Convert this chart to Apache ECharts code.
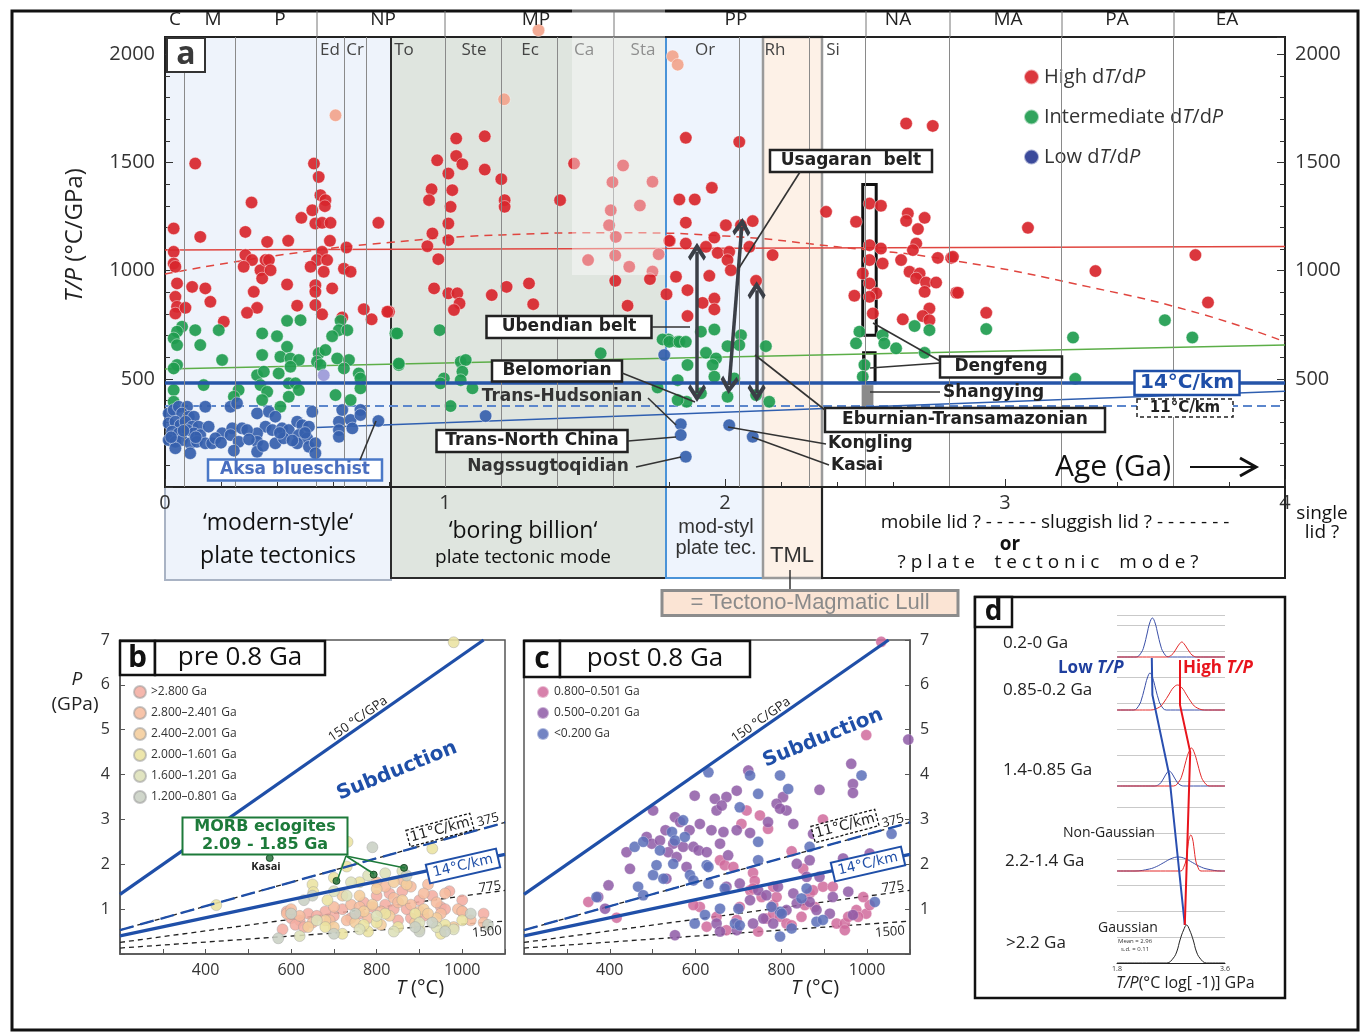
<!DOCTYPE html>
<html>
<head>
<meta charset="utf-8">
<script src="https://cdn.jsdelivr.net/npm/echarts@6/dist/echarts.min.js"></script>
<style>
html, body { margin: 0; padding: 0; background: #fff; }
#main { width: 1366px; height: 1034px; }
</style>
</head>
<body>
<div id="main"></div>
<script>
// ---- panel a : T/P vs age ----
var eraLabels = [['C', 175], ['M', 213], ['P', 280], ['NP', 383], ['MP', 536], ['PP', 736], ['NA', 898], ['MA', 1008], ['PA', 1117], ['EA', 1227]];
var periodLabels = [['Ed', 330], ['Cr', 355], ['To', 404], ['Ste', 474], ['Ec', 530], ['Ca', 584], ['Sta', 643], ['Or', 705], ['Rh', 775], ['Si', 833]];
var periodBounds = [0.066, 0.252, 0.541, 0.635, 0.72, 1.0, 1.2, 1.4, 1.6, 2.05, 2.3, 2.5, 2.8, 3.2, 3.6];

var highTP = [
  [0.031,1195],[0.031,1087],[0.031,1033],[0.037,1018],[0.043,941],[0.037,879],[0.043,833],[0.037,802],[0.073,828],[0.097,925],
  [0.108,1495],[0.126,1156],[0.144,918],[0.162,856],[0.210,764],[0.287,1179],[0.309,1315],[0.287,1072],[0.311,1049],[0.281,1018],
  [0.317,902],[0.329,828],[0.293,805],[0.341,1002],[0.347,964],[0.359,1049],[0.371,1049],[0.365,1133],[0.377,1002],[0.436,936],
  [0.440,1138],[0.472,838],[0.487,1244],[0.526,1279],[0.532,1495],[0.549,1433],[0.555,1349],[0.573,1326],[0.571,1298],[0.537,1218],
  [0.561,1221],[0.591,1221],[0.589,1138],[0.561,1087],[0.543,1049],[0.579,1049],[0.520,1018],[0.567,995],[0.537,933],[0.537,902],
  [0.597,918],[0.537,841],[0.561,798],[0.633,784],[0.648,1107],[0.639,1009],[0.663,995],[0.710,822],[0.738,775],[0.762,1221],[0.800,810],
  [0.794,810],[0.937,1113],[0.955,1172],[0.972,1510],[0.952,1376],[0.943,1326],[0.976,1053],[0.961,918],[1.012,1449],[1.026,1372],
  [1.020,1295],[1.012,1218],[1.012,1141],[1.040,1611],[1.040,1530],[1.062,1492],[1.012,895],[1.044,895],[1.052,848],[1.032,818],
  [1.142,1621],[1.142,1467],[1.201,1423],[1.213,1326],[1.213,1295],[1.167,887],[1.220,925],[1.300,941],[1.315,845],[1.411,1326],
  [1.461,1495],[1.511,1049],[1.592,1279],[1.586,1210],[1.598,1409],[1.610,1156],[1.608,1070],[1.636,1486],[1.608,953],[1.658,1018],
  [1.652,838],[1.696,1301],[1.741,1411],[1.763,1076],[1.741,996],[1.732,961],[1.791,891],[1.803,1138],
  [1.860,1614],[2.051,1595],[1.953,1383],[1.837,1329],[1.892,1329],[1.860,1222],[1.801,1138],[1.860,1125],[1.932,1110],[1.962,1153],
  [2.003,1210],[2.057,1210],[2.099,1229],[1.974,1082],[2.015,1087],[2.009,1049],[2.021,1002],[2.087,1110],[1.825,972],[1.944,976],
  [1.866,910],[1.920,851],[1.962,871],[1.962,821],[1.866,790],[2.111,953],[2.170,1072],
  [2.361,1272],[2.468,1226],[2.516,1310],[2.557,1300],[2.516,1118],[2.557,1102],[2.516,1049],[2.563,1033],[2.492,987],[2.516,941],
  [2.540,895],[2.462,884],[2.516,879],[2.528,802],[2.653,1264],[2.647,1230],[2.713,1244],[2.689,1192],[2.683,1125],[2.671,1095],
  [2.629,1049],[2.659,995],[2.695,987],[2.683,964],[2.718,945],[2.754,945],[2.713,902],[2.730,825],[2.706,790],[2.730,771],
  [2.635,775],[2.647,1680],[2.742,1669],[2.760,1059],[2.808,1059],[2.826,898],
  [3.082,1198],[3.323,998],[3.680,1072],[3.725,853],[2.933,805],[2.832,898],[2.814,1064]
];
var intermTP = [
  [0.061,741],[0.043,718],[0.031,687],[0.043,656],[0.108,725],[0.126,656],[0.192,725],[0.204,587],[0.043,564],[0.031,548],
  [0.031,448],[0.031,394],[0.138,471],[0.263,448],[0.246,417],[0.347,710],[0.400,697],[0.347,610],[0.436,768],[0.484,771],
  [0.436,648],[0.412,602],[0.448,594],[0.478,587],[0.448,556],[0.406,525],[0.329,517],[0.353,533],[0.341,471],[0.365,440],
  [0.347,402],[0.442,479],[0.466,479],[0.478,448],[0.442,417],[0.412,371],[0.549,618],[0.573,633],[0.543,579],[0.555,564],
  [0.615,594],[0.657,587],[0.609,425],[0.663,402],[0.692,525],[0.698,502],[0.698,456],[0.627,768],[0.621,725],[0.651,725],
  [0.597,697],[0.823,710],[0.835,564],[0.639,548],
  [0.829,710],[0.981,725],[0.835,571],[1.056,579],[1.074,587],[1.062,533],[0.996,502],[0.984,479],[1.056,494],[1.098,456],
  [1.020,374],[1.556,618],[1.759,460],[1.798,682],[1.831,671],[1.863,394],
  [1.777,682],[1.801,671],[1.837,671],[1.860,671],[1.914,718],[1.962,728],[2.057,702],[2.051,656],[2.009,651],[2.146,651],
  [1.932,620],[1.968,594],[1.866,564],[1.956,564],[1.831,494],[1.914,433],[1.831,402],[2.009,417],[2.111,425],[2.158,394],
  [1.962,510],[2.033,502],
  [2.480,718],[2.468,664],[2.498,564],[2.492,510],[2.563,702],[2.569,664],[2.611,641],[2.713,620],[2.677,744],[2.730,725],
  [2.933,730],[3.243,691],[3.571,771],[3.669,691],[3.251,500]
];
var lowTP = [
  [0.013,340],[0.031,356],[0.049,371],[0.079,371],[0.061,340],[0.085,325],[0.103,325],[0.013,294],[0.037,302],[0.055,286],
  [0.073,302],[0.097,279],[0.120,279],[0.025,256],[0.049,248],[0.079,263],[0.103,248],[0.126,240],[0.156,279],[0.144,371],
  [0.013,217],[0.037,209],[0.061,217],[0.090,202],[0.114,209],[0.144,202],[0.168,202],[0.037,179],[0.090,156],[0.204,248],
  [0.240,271],[0.234,371],[0.257,387],[0.275,271],[0.234,240],[0.263,209],[0.246,168],[0.329,340],[0.371,348],[0.394,325],
  [0.359,279],[0.383,263],[0.329,248],[0.329,209],[0.329,163],[0.418,271],[0.442,263],[0.472,302],[0.490,286],[0.514,279],
  [0.478,240],[0.508,225],[0.472,202],[0.514,186],[0.537,202],[0.537,156],[0.526,348],[0.394,202],[0.424,225],[0.293,263],
  [0.621,302],[0.633,356],[0.621,263],[0.621,232],[0.663,310],[0.669,271],[0.698,356],[0.698,333],[0.762,305],
  [0.022,230],[0.066,260],[0.110,230],[0.180,225],[0.200,205],[0.300,220],[0.350,190],[0.410,250],[0.455,215],[0.500,250],
  [1.145,328],[1.783,610],[1.842,290],[1.842,240],[1.860,140],[2.015,286],[2.099,232]
];
var fadedTP = [[0.609,1718],[1.211,1792],[1.813,1991],[1.831,1952],[1.334,2111]];
var lavenderTP = [[0.567,517]];

var redFlatTrend = [[0, 1095], [4, 1112]];
var redDashTrend = [[0,985],[0.4,1070],[0.8,1130],[1.2,1165],[1.6,1175],[2.0,1160],[2.4,1110],[2.8,1050],[3.3,925],[3.7,800],[4.0,671]];
var greenTrend = [[0, 545], [4, 656]];
var grad14 = [[0, 481], [4, 481]];
var grad11 = [[0, 374], [4, 374]];
var blueTrend = [[0.54, 275], [4, 443]];
var arrowSpans = [[[1.900,434],[1.900,1087]], [[2.015,471],[2.060,1202]], [[2.113,434],[2.113,910]]];
var dengfengBoxes = [[2.492, 2.540, 702, 1398], [2.495, 2.536, 482, 620]];
var shangyingBar = [2.488, 2.530, 365, 471];

// ---- panels b, c : P vs T ----
var bNames = ['>2.800 Ga', '2.800–2.401 Ga', '2.400–2.001 Ga', '2.000–1.601 Ga', '1.600–1.201 Ga', '1.200–0.801 Ga'];
var bColors = ['#f4ada2', '#f6bc9e', '#f4cd9c', '#ebe2a0', '#dde0b8', '#c9d0c4'];
var bData = [
  [[600,0.8],[620,0.75],[640,0.9],[700,0.85],[720,1.0],[760,0.9],[800,1.3],[820,1.1],[840,1.0],[860,1.4],[880,0.8],[900,1.2],[930,1.3],[950,1.05],[970,1.4],[1000,1.2],[1050,0.9],[580,0.55],[610,0.65],[680,0.95],[850,0.75],[590,0.95],[630,0.6],[770,1.15],[910,0.85],[660,0.85],[740,0.8],[790,1.05],[870,1.0],[960,1.0],[1000,0.95],[830,1.35]],
  [[590,0.9],[650,0.7],[700,1.05],[740,1.1],[780,0.8],[800,1.6],[820,1.5],[840,1.25],[860,1.65],[880,1.1],[900,0.95],[920,1.55],[950,0.9],[960,1.35],[990,1.0],[1020,0.75],[1050,0.7],[600,1.0],[760,1.05],[880,1.5],[730,0.75],[810,0.95],[940,1.15],[1000,0.95],[620,0.85],[690,0.75],[850,1.15],[910,1.35]],
  [[640,0.6],[680,0.75],[720,1.3],[760,1.3],[790,1.1],[810,0.65],[830,0.85],[860,1.2],[890,0.7],[910,1.0],[940,0.8],[980,0.6],[700,0.6],[750,0.7],[870,1.55],[800,1.45],[840,1.6],[770,0.95],[920,0.9]],
  [[650,1.55],[700,1.7],[730,1.95],[732,2.5],[930,2.35],[980,6.95],[425,1.09],[760,1.6],[820,0.9],[850,0.6],[900,0.55],[960,0.65],[1000,0.75],[680,0.6],[720,0.45],[780,0.5],[652,1.38],[685,1.2],[770,0.65],[950,0.45],[800,0.7],[890,0.9]],
  [[620,0.4],[700,1.4],[740,1.6],[780,1.75],[820,1.8],[860,1.85],[900,0.7],[940,0.6],[980,0.55],[660,0.75],[760,0.55],[800,0.85],[730,1.3],[840,0.5]],
  [[570,0.35],[600,0.9],[650,1.3],[790,2.38],[870,1.75],[900,0.5],[930,0.7],[960,0.5],[1020,0.9],[1060,0.65],[700,0.45],[750,0.9],[630,1.2],[890,0.6]]
];
var morbEclogites = [[550,2.14],[706,1.63],[793,1.77],[864,1.92]];

var cNames = ['0.800–0.501 Ga', '0.500–0.201 Ga', '<0.200 Ga'];
var cColors = ['#d06b9c', '#8e5ba6', '#5a6fb8'];
var cData = [
  [[1033,6.96],[998,4.88],[350,1.16],[416,0.81],[897,3.0],[824,2.29],[719,3.2],[707,2.9],[750,3.09],[769,2.79],[657,2.09],[668,1.98],[688,1.94],[734,1.81],[738,1.63],[781,1.5],[754,1.27],[727,1.42],[703,1.05],[649,0.83],[610,1.05],[595,1.09],[626,0.61],[672,0.53],[696,0.76],[746,0.5],[765,0.79],[781,0.9],[797,0.83],[812,0.68],[824,0.64],[847,0.83],[855,1.09],[866,1.35],[878,1.05],[874,1.42],[897,1.5],[920,1.5],[929,0.68],[948,0.68],[956,0.83],[975,0.98],[998,0.9],[1006,1.09],[991,1.27],[948,0.53],[979,0.83],[851,1.9],[781,1.09],[789,1.27],[734,1.46]],
  [[1096,4.78],[963,4.24],[967,3.79],[967,3.59],[889,3.66],[804,3.5],[812,3.2],[789,3.35],[797,3.24],[723,4.09],[696,3.64],[672,3.5],[645,3.46],[649,3.2],[661,3.31],[598,3.53],[501,3.2],[552,3.05],[564,2.94],[530,2.76],[586,2.76],[610,2.9],[637,2.76],[665,2.72],[696,2.76],[727,2.7],[769,2.94],[828,2.9],[874,2.68],[486,2.61],[498,2.46],[517,2.53],[548,2.46],[571,2.39],[595,2.39],[607,2.31],[657,2.46],[626,2.27],[676,2.2],[439,2.27],[447,1.9],[397,1.53],[373,1.27],[389,1.01],[536,2.27],[556,2.16],[579,1.94],[532,1.68],[672,1.5],[703,1.57],[727,1.2],[746,1.42],[765,1.31],[792,1.5],[812,0.98],[758,0.79],[734,0.68],[781,0.68],[649,0.68],[657,0.5],[696,0.53],[552,0.42],[828,1.35],[836,1.13],[866,1.16],[882,0.98],[889,1.72],[920,1.27],[944,2.13],[1006,2.24],[956,1.39],[967,0.87],[913,0.9],[859,1.72],[836,2.01],[866,2.09]],
  [[369,1.27],[466,1.5],[478,1.31],[458,2.39],[478,2.5],[501,1.76],[509,1.98],[517,2.31],[525,1.68],[545,2.72],[548,2.01],[552,2.53],[571,2.98],[575,2.61],[587,1.76],[595,1.64],[626,1.98],[630,1.94],[630,1.57],[622,0.87],[598,0.68],[657,1.01],[700,1.01],[703,3.27],[727,3.98],[746,3.57],[746,2.5],[746,2.09],[668,1.46],[692,0.68],[703,0.64],[797,3.98],[816,3.68],[797,0.94],[777,1.05],[801,0.9],[824,0.57],[797,0.39],[859,1.46],[847,1.24],[882,0.72],[897,0.76],[987,3.98],[1057,2.68],[1018,1.16],[630,4.05],[866,2.39]]
];
// reference lines (T, P end points)
var line150 = [[200,1.33],[1050,7.0]];
var line375 = [[200,0.533],[1100,2.933]];
var line14 = [[200,0.404],[1100,2.22]];
var line775 = [[200,0.258],[1100,1.419]];
var line1500 = [[200,0.133],[1100,0.733]];

// ---- panel d : T/P distributions (x = log T/P, y = height above row baseline) ----
var dRowLabels = ['>2.2 Ga', '2.2-1.4 Ga', '1.4-0.85 Ga', '0.85-0.2 Ga', '0.2-0 Ga'];
var dGauss = [[1.8,0],[2.63,0],[2.74,5],[2.80,12],[2.85,23],[2.91,33],[2.96,38],[3.01,33],[3.07,23],[3.12,12],[3.18,5],[3.29,0],[3.6,0]];
var dLow = [
  null,
  [[1.8,0],[2.1,0],[2.34,2],[2.46,4.5],[2.58,8.4],[2.70,12.3],[2.82,14],[2.94,12.3],[3.06,8.4],[3.18,4.5],[3.30,2],[3.54,0],[3.6,0]],
  [[1.8,0],[2.43,0],[2.51,2],[2.55,5],[2.59,9],[2.63,13],[2.67,15],[2.71,13],[2.75,9],[2.79,5],[2.83,2],[2.91,0],[3.6,0]],
  [[1.8,0],[2.08,0],[2.17,5],[2.215,12],[2.26,22],[2.305,32],[2.35,37],[2.395,32],[2.44,22],[2.485,12],[2.53,5],[2.62,0],[3.6,0]],
  [[1.8,0],[2.12,0],[2.21,5],[2.255,12],[2.30,23],[2.345,34],[2.39,39],[2.435,34],[2.48,23],[2.525,12],[2.57,5],[2.66,0],[3.6,0]]
];
var dHigh = [
  null,
  [[1.8,0],[2.86,0],[2.92,5],[2.95,11],[2.975,22],[3.0,32],[3.03,36],[3.06,32],[3.085,22],[3.11,11],[3.14,5],[3.2,0],[3.6,0]],
  [[1.8,0],[2.74,0],[2.84,5],[2.89,12],[2.94,23],[2.99,33],[3.04,38],[3.09,33],[3.14,23],[3.19,12],[3.24,5],[3.34,0],[3.6,0]],
  [[1.8,0],[2.36,0],[2.51,3],[2.585,8],[2.66,15],[2.735,22],[2.81,25],[2.885,22],[2.96,15],[3.035,8],[3.11,3],[3.26,0],[3.6,0]],
  [[1.8,0],[2.63,0],[2.71,2],[2.753,5],[2.795,9],[2.84,13],[2.88,15],[2.92,13],[2.965,9],[3.01,5],[3.05,2],[3.13,0],[3.6,0]]
];
var dLowPath = [[2.93,38],[2.67,188],[2.39,268],[2.38,305]];
var dHighPath = [[2.93,38],[3.02,211],[2.85,258],[2.85,303]];

// layout
var dRowBase = [0, 92, 177, 253, 306];
var FONT = '"Open Sans", "DejaVu Sans", sans-serif';
var BOLD = '"DejaVu Sans", Verdana, sans-serif';
var NARROW = '"Liberation Sans Narrow", "Liberation Sans", Arial, sans-serif';
var RED = '#d8262d', GREEN = '#1f9c4f', BLUE = '#3560ad', LINEBLUE = '#1f4fa8';
var CHEV = 'path://M0,0L12,11L9,14L0,6L-9,14L-12,11Z';

function shift(arr, b) { return arr.map(function (p) { return [p[0], p[1] + b]; }); }

function sc(name, data, color, xi, yi, size, extra) {
  return Object.assign({
    type: 'scatter', name: name, data: data, xAxisIndex: xi, yAxisIndex: yi, symbolSize: size, z: 3, silent: true,
    itemStyle: { color: color, opacity: 0.92, borderColor: 'rgba(255,255,255,0.6)', borderWidth: 0.8 }
  }, extra || {});
}
function ln(data, xi, yi, style, extra) {
  return Object.assign({
    type: 'line', data: data, xAxisIndex: xi, yAxisIndex: yi, symbol: 'none', showSymbol: false, silent: true, z: 2,
    lineStyle: style
  }, extra || {});
}

// graphic helpers (annotation text and boxes)
function T(x, y, text, font, fill, o) {
  o = o || {};
  return { type: 'text', x: x, y: y, rotation: (o.rot || 0) * Math.PI / 180, z: o.z || 100, silent: true,
    style: { text: text, fill: fill || '#222', font: font, align: o.align || 'center', verticalAlign: 'middle', rich: o.rich, lineHeight: o.lh } };
}
function R(x, y, w, h, o) {
  return { type: 'rect', shape: { x: x, y: y, width: w, height: h }, z: o.z || 0, silent: true,
    style: { fill: o.fill || 'none', stroke: o.stroke || null, lineWidth: o.lw || 1, lineDash: o.dash || null } };
}
function L(x1, y1, x2, y2, o) {
  o = o || {};
  return { type: 'line', shape: { x1: x1, y1: y1, x2: x2, y2: y2 }, z: o.z || 100, silent: true,
    style: { stroke: o.stroke || '#222', lineWidth: o.lw || 1.5, lineDash: o.dash || null } };
}
function tag(cx, cy, w, h, text, o) {
  var z = o.z || 100;
  return { type: 'group', x: cx, y: cy, rotation: (o.rot || 0) * Math.PI / 180, silent: true, children: [
    { type: 'rect', z: z, shape: { x: -w / 2, y: -h / 2, width: w, height: h },
      style: { fill: o.fill || '#fff', stroke: o.stroke || '#222', lineWidth: o.lw || 2, lineDash: o.dash || null } },
    { type: 'text', z: z + 1, style: { text: text, x: 0, y: 0, align: 'center', verticalAlign: 'middle', font: o.font, fill: o.color || '#222', lineHeight: o.lh } }
  ] };
}
function italicRich(size, color, weight) {
  return {
    n: { fontSize: size, fill: color, color: color, fontFamily: FONT, fontWeight: weight || 'normal' },
    i: { fontSize: size, fill: color, color: color, fontFamily: FONT, fontStyle: 'italic', fontWeight: weight || 'normal' }
  };
}

var g = [];
// outer frame
g.push(R(12, 11, 1346, 1019, { stroke: '#111', lw: 3, z: 1 }));
// tectonic-mode boxes behind panel a
g.push(R(165, 37, 226, 543, { fill: '#eef3fb', stroke: '#a9b3c4', lw: 2, z: -5 }));
g.push(R(391, 37, 275, 541, { fill: '#dfe5df', stroke: '#2b2b2b', lw: 2, z: -5 }));
g.push(R(666, 37, 97, 541, { fill: '#eef4fd', stroke: '#4a93d8', lw: 2, z: -5 }));
g.push(R(763, 37, 59, 541, { fill: '#fdf1e7', stroke: '#9a9a9a', lw: 2.5, z: -5 }));
g.push(R(822, 487, 463, 91, { stroke: '#222', lw: 2, z: 20 }));
// era row on top
eraLabels.forEach(function (e) { g.push(T(e[1], 20, e[0], '19px ' + FONT, '#222')); });
[317, 445, 614, 866, 950, 1062, 1174].forEach(function (x) { g.push(L(x, 11, x, 37, { stroke: '#777', lw: 1 })); });
periodLabels.forEach(function (p) { g.push(T(p[1], 50, p[0], '17px ' + FONT, '#444', { z: 40 })); });
g.push(R(572, 0, 93, 275, { fill: 'rgba(255,255,255,0.4)', z: 50 }));
g.push(tag(186, 55, 38, 34, 'a', { font: 'bold 32px ' + FONT, color: '#3a3a3a', stroke: '#333', lw: 2 }));
// axis title
g.push(T(75, 235, '{i|T/P} {n|(°C/GPa)}', '24px ' + FONT, '#222', { rot: 90, rich: italicRich(24, '#222') }));
// annotations in panel a
var ann = 'bold 17px ' + BOLD;
g.push(tag(851, 161, 162, 22, 'Usagaran  belt', { font: ann, lw: 2.5 }));
g.push(tag(569, 327, 165, 22, 'Ubendian belt', { font: ann, lw: 2.5 }));
g.push(tag(557, 371, 130, 21, 'Belomorian', { font: ann, lw: 2.5 }));
g.push(T(562, 397, 'Trans-Hudsonian', ann, '#333'));
g.push(tag(532, 441, 191, 22, 'Trans-North China', { font: ann, lw: 2.5 }));
g.push(T(548, 467, 'Nagssugtoqidian', ann, '#333'));
g.push(T(828, 444, 'Kongling', ann, '#222', { align: 'left' }));
g.push(T(831, 466, 'Kasai', ann, '#222', { align: 'left' }));
g.push(tag(965, 420, 280, 24, 'Eburnian-Transamazonian', { font: ann, lw: 2.5 }));
g.push(tag(1001, 367, 122, 21, 'Dengfeng', { font: ann, lw: 2.5 }));
g.push(T(943, 393, 'Shangying', ann, '#222', { align: 'left' }));
g.push(tag(1187, 383, 105, 24, '14°C/km', { font: 'bold 20px ' + BOLD, color: LINEBLUE, stroke: LINEBLUE, lw: 2.5 }));
g.push(tag(1185, 408, 96, 18, '11°C/km', { font: 'bold 15px ' + BOLD, color: '#222', stroke: '#222', lw: 1.5, dash: [4, 3] }));
g.push(tag(295, 470, 174, 21, 'Aksa blueschist', { font: ann, color: '#4a6fc0', stroke: '#4a78c8', lw: 2.5 }));
[[800,172,739,268],[652,327,690,327],[622,373,695,402],[648,398,676,425],[628,441,676,437],[636,467,681,457],
 [728,427,826,444],[752,437,829,465],[825,410,755,355],[873,323,940,361],[870,368,940,363],[870,392,940,392],
 [360,460,376,421]].forEach(function (s) { g.push(L(s[0], s[1], s[2], s[3], { stroke: '#333', lw: 1.6 })); });
// Age arrow
g.push(T(1055, 467, 'Age (Ga)', '30px ' + FONT, '#111', { align: 'left' }));
g.push(L(1190, 467, 1255, 467, { stroke: '#111', lw: 2 }));
g.push({ type: 'polyline', z: 100, silent: true, shape: { points: [[1240, 458], [1256, 467], [1240, 476]] }, style: { stroke: '#111', lineWidth: 3, fill: 'none' } });
// text row under panel a
g.push(T(278, 523, '‘modern-style‘', '23px ' + FONT, '#111'));
g.push(T(278, 556, 'plate tectonics', '23px ' + FONT, '#111'));
g.push(T(523, 531, '‘boring billion‘', '23px ' + FONT, '#111'));
g.push(T(523, 558, 'plate tectonic mode', '19px ' + FONT, '#111'));
g.push(T(716, 527, 'mod-styl', '20px ' + NARROW, '#333'));
g.push(T(716, 548, 'plate tec.', '20px ' + NARROW, '#333'));
g.push(T(792, 556, 'TML', '22px ' + NARROW, '#333'));
g.push(T(1055, 523, 'mobile lid ? - - - - - sluggish lid ? - - - - - - -', '19px ' + FONT, '#111'));
g.push(T(1010, 545, 'or', 'bold 19px ' + FONT, '#111'));
g.push(T(1048, 563, '? p l a t e    t e c t o n i c    m o d e ?', '19px ' + FONT, '#111'));
g.push(T(1322, 514, 'single', '19px ' + FONT, '#111'));
g.push(T(1322, 533, 'lid ?', '19px ' + FONT, '#111'));
g.push(L(790, 570, 790, 590, { stroke: '#333', lw: 1.5 }));
g.push(tag(810, 603, 296, 25, '= Tectono-Magmatic Lull', { font: '22px ' + NARROW, color: '#8a8a8a', fill: '#fbe4d4', stroke: '#8c8c8c', lw: 3 }));

// panel b / c headers and labels
g.push(tag(137.5, 658, 35, 34, 'b', { font: 'bold 30px ' + FONT, color: '#111', stroke: '#111', lw: 2.5 }));
g.push(tag(240, 658, 170, 34, 'pre 0.8 Ga', { font: '26px ' + FONT, color: '#111', stroke: '#111', lw: 2.5 }));
g.push(tag(542, 659, 36, 36, 'c', { font: 'bold 30px ' + FONT, color: '#111', stroke: '#111', lw: 2.5 }));
g.push(tag(655, 659, 190, 36, 'post 0.8 Ga', { font: '26px ' + FONT, color: '#111', stroke: '#111', lw: 2.5 }));
g.push(T(77, 680, '{i|P}', '19px ' + FONT, '#222', { rich: italicRich(19, '#222') }));
g.push(T(75, 705, '(GPa)', '19px ' + FONT, '#222'));
g.push(T(420, 988, '{i|T} {n|(°C)}', '20px ' + FONT, '#222', { rich: italicRich(20, '#222') }));
g.push(T(815, 988, '{i|T} {n|(°C)}', '20px ' + FONT, '#222', { rich: italicRich(20, '#222') }));
// label anchors for b and c: 150°C/GPa, Subduction, 11°C/km, 375, 14°C/km, 775, 1500
[[358, 719, 397, 771, 440, 830, 488, 820, 463, 866, 490, 887, 487, 932],
 [761, 720, 823, 738, 845, 826, 893, 821, 868, 864, 893, 887, 890, 932]].forEach(function (p) {
  g.push(T(p[0], p[1], '150 °C/GPa', '13px ' + FONT, '#222', { rot: 35 }));
  g.push(T(p[2], p[3], 'Subduction', 'bold 20px ' + BOLD, LINEBLUE, { rot: 22 }));
  g.push(tag(p[4], p[5], 66, 17, '11°C/km', { font: '14px ' + BOLD, rot: 15, stroke: '#111', lw: 1.3, dash: [3, 2] }));
  g.push(T(p[6], p[7], '375', '13px ' + FONT, '#222', { rot: 15 }));
  g.push(tag(p[8], p[9], 72, 19, '14°C/km', { font: '14px ' + BOLD, color: LINEBLUE, rot: 13, stroke: LINEBLUE, lw: 2 }));
  g.push(T(p[10], p[11], '775', '13px ' + FONT, '#222', { rot: 8 }));
  g.push(T(p[12], p[13], '1500', '13px ' + FONT, '#222', { rot: 5 }));
});
g.push(tag(265, 836, 165, 37, 'MORB eclogites\n2.09 - 1.85 Ga', { font: 'bold 16px ' + BOLD, color: '#1d7a3a', stroke: '#1d7a3a', lw: 2, lh: 18 }));
[[337, 881], [374, 874], [405, 868]].forEach(function (p) { g.push(L(346, 856, p[0], p[1], { stroke: '#1d7a3a', lw: 1.5 })); });
g.push(T(266, 867, 'Kasai', 'bold 11px ' + FONT, '#222'));

// panel d
g.push(R(975, 597, 310, 401, { stroke: '#111', lw: 2.5, z: 1 }));
g.push(tag(993.5, 612, 37, 30, 'd', { font: 'bold 28px ' + FONT, color: '#111', stroke: '#111', lw: 2.5 }));
g.push(T(1003, 643, dRowLabels[4], '17px ' + FONT, '#222', { align: 'left' }));
g.push(T(1003, 690, dRowLabels[3], '17px ' + FONT, '#222', { align: 'left' }));
g.push(T(1003, 770, dRowLabels[2], '17px ' + FONT, '#222', { align: 'left' }));
g.push(T(1005, 861, dRowLabels[1], '17px ' + FONT, '#222', { align: 'left' }));
g.push(T(1006, 943, dRowLabels[0], '17px ' + FONT, '#222', { align: 'left' }));
g.push(T(1063, 833, 'Non-Gaussian', '14px ' + FONT, '#222', { align: 'left' }));
g.push(T(1098, 928, 'Gaussian', '14px ' + FONT, '#222', { align: 'left' }));
g.push(T(1118, 941, 'Mean = 2.96', '6px ' + FONT, '#333', { align: 'left' }));
g.push(T(1121, 949, 's.d. = 0.11', '6px ' + FONT, '#333', { align: 'left' }));
g.push(T(1058, 668, '{n|Low }{i|T/P}', 'bold 17px ' + FONT, '#1f3f9e', { align: 'left', rich: italicRich(17, '#1f3f9e', 'bold') }));
g.push(T(1183, 668, '{n|High }{i|T/P}', 'bold 17px ' + FONT, '#e8141c', { align: 'left', rich: italicRich(17, '#e8141c', 'bold') }));
g.push(T(1116, 983, '{i|T/P}{n|(°C log[ -1)] GPa}', '16px ' + FONT, '#222', { align: 'left', rich: italicRich(16, '#222') }));

// ---- series ----
var series = [];
series.push(ln(redFlatTrend, 0, 0, { color: '#e0453f', width: 1.5 }, {
  z: 1,
  markLine: { silent: true, symbol: 'none', label: { show: false }, lineStyle: { color: '#8a8a8a', width: 1, type: 'solid' },
    data: periodBounds.map(function (v) { return { xAxis: v }; }) }
}));
series.push(ln(redDashTrend, 0, 0, { color: '#e0453f', width: 1.5, type: [8, 6] }, { smooth: true }));
series.push(ln(greenTrend, 0, 0, { color: '#5cae48', width: 1.5 }));
series.push(ln(grad11, 0, 0, { color: '#5b86cc', width: 2, type: [9, 5] }));
series.push(ln(blueTrend, 0, 0, { color: '#2f5fb0', width: 1.5 }, {
  markArea: { silent: true, data: dengfengBoxes.map(function (b) {
    return [{ xAxis: b[0], yAxis: b[2], itemStyle: { color: 'rgba(0,0,0,0)', borderColor: '#111', borderWidth: 3 } }, { xAxis: b[1], yAxis: b[3] }];
  }).concat([[{ xAxis: shangyingBar[0], yAxis: shangyingBar[2], itemStyle: { color: '#8a8a8a', borderWidth: 0 } }, { xAxis: shangyingBar[1], yAxis: shangyingBar[3] }]]) }
}));
series.push(sc('High dT/dP', highTP, RED, 0, 0, 12.5));
series.push(sc('Intermediate dT/dP', intermTP, GREEN, 0, 0, 12.5));
series.push(sc('Low dT/dP', lowTP, BLUE, 0, 0, 12.5));
series.push(sc('faded', fadedTP, '#f2a48c', 0, 0, 12.5, { clip: false }));
series.push(sc('lavender', lavenderTP, '#9c9ad8', 0, 0, 12.5));
series.push(ln(grad14, 0, 0, { color: '#2655a8', width: 3.5 }, { z: 4 }));
series.push({ type: 'lines', coordinateSystem: 'cartesian2d', xAxisIndex: 0, yAxisIndex: 0, z: 5, silent: true,
  symbol: [CHEV, CHEV], symbolSize: 18, lineStyle: { color: '#3b3f47', width: 3.5, opacity: 1, curveness: 0 },
  itemStyle: { color: '#3b3f47' },
  data: arrowSpans.map(function (s) { return { coords: s }; }) });

// panels b and c
[1, 2].forEach(function (k) {
  series.push(ln(line1500, k, k + 1, { color: '#222', width: 1.3, type: [5, 4] }));
  series.push(ln(line775, k, k + 1, { color: '#222', width: 1.3, type: [5, 4] }));
  series.push(ln(line375, k, k + 1, { color: '#222', width: 1.3, type: [5, 4] }));
  series.push(ln(line375, k, k + 1, { color: LINEBLUE, width: 2.3, type: [14, 7] }, { z: 4 }));
  series.push(ln(line14, k, k + 1, { color: LINEBLUE, width: 3.2 }, { z: 4 }));
  series.push(ln(line150, k, k + 1, { color: LINEBLUE, width: 3.2 }, { z: 4 }));
});
bNames.forEach(function (n, i) {
  series.push(sc(n, bData[i], bColors[i], 1, 2, 11, { itemStyle: { color: bColors[i], opacity: 0.88, borderColor: 'rgba(150,150,150,0.6)', borderWidth: 0.7 } }));
});
series.push(sc('MORB', morbEclogites, '#1d6b32', 1, 2, 7, { z: 6, itemStyle: { color: '#1d6b32', borderColor: '#0b3d17', borderWidth: 1 } }));
cNames.forEach(function (n, i) {
  series.push(sc(n, cData[i], cColors[i], 2, 3, 11, { itemStyle: { color: cColors[i], opacity: 0.85, borderColor: 'rgba(255,255,255,0.5)', borderWidth: 0.6 } }));
});

// panel d
for (var r = 0; r < 5; r++) {
  if (r === 0) {
    series.push(ln(shift(dGauss, dRowBase[r]), 3, 4, { color: '#222', width: 1 }, { smooth: 0.4 }));
  } else {
    series.push(ln(shift(dLow[r], dRowBase[r]), 3, 4, { color: '#3a4fa8', width: 1 }, { smooth: 0.4 }));
    series.push(ln(shift(dHigh[r], dRowBase[r]), 3, 4, { color: '#e42a2a', width: 1 }, { smooth: 0.4 }));
  }
}
series.push({ type: 'lines', coordinateSystem: 'cartesian2d', xAxisIndex: 3, yAxisIndex: 4, polyline: true, z: 5, silent: true,
  symbol: ['none', 'arrow'], symbolSize: 8,
  data: [{ coords: dLowPath, lineStyle: { color: '#2a4fb0', width: 2, opacity: 1 } }, { coords: dHighPath, lineStyle: { color: '#e8141c', width: 2, opacity: 1 } }] });

var chart = echarts.init(document.getElementById('main'));
var axisTxt = { color: '#333', fontFamily: FONT };
var plain = function (v) { return String(v); };
var ptAxisX = function (gi) {
  return { gridIndex: gi, type: 'value', min: 200, max: 1100, interval: 100,
    axisLine: { show: true, lineStyle: { color: '#555', width: 1.5 } },
    axisTick: { inside: true, length: 5, lineStyle: { color: '#555' } }, splitLine: { show: false },
    axisLabel: Object.assign({ fontSize: 16, margin: 8, formatter: function (v) { return (v === 400 || v === 600 || v === 800 || v === 1000) ? String(v) : ''; } }, axisTxt) };
};
var ptAxisY = function (gi, pos) {
  return { gridIndex: gi, type: 'value', min: 0, max: 7, interval: 1, position: pos,
    axisLine: { show: true, lineStyle: { color: '#555', width: 1.5 } },
    axisTick: { inside: true, length: 5, lineStyle: { color: '#555' } }, splitLine: { show: false },
    axisLabel: Object.assign({ fontSize: 16, margin: 10, formatter: function (v) { return v === 0 ? '' : String(v); } }, axisTxt) };
};
var tpAxisY = function (pos) {
  return { gridIndex: 0, type: 'value', min: 0, max: 2080, interval: 500, position: pos,
    axisLine: { show: false }, splitLine: { show: false },
    axisTick: { show: true, inside: true, length: 8, lineStyle: { color: '#333' } },
    minorTick: { show: true, splitNumber: 5, length: 5, lineStyle: { color: '#333' } },
    axisLabel: Object.assign({ fontSize: 20, margin: 10, showMinLabel: false, showMaxLabel: false, formatter: plain }, axisTxt) };
};

chart.setOption({
  backgroundColor: '#fff',
  animation: false,
  textStyle: { fontFamily: FONT },
  grid: [
    { left: 165, top: 37, width: 1120, height: 450, show: true, borderColor: '#222', borderWidth: 2, backgroundColor: 'transparent', outerBoundsMode: 'none' },
    { left: 120, top: 640, width: 385, height: 314, show: true, borderColor: '#555', borderWidth: 1.5, backgroundColor: '#fff', outerBoundsMode: 'none' },
    { left: 524, top: 640, width: 386, height: 314, show: true, borderColor: '#555', borderWidth: 1.5, backgroundColor: '#fff', outerBoundsMode: 'none' },
    { left: 1117, top: 615, width: 108, height: 348, show: false, outerBoundsMode: 'none' }
  ],
  xAxis: [
    { gridIndex: 0, type: 'value', min: 0, max: 4, interval: 1, axisLine: { show: false }, splitLine: { show: false },
      axisTick: { inside: true, length: 8, lineStyle: { color: '#333' } },
      minorTick: { show: true, splitNumber: 5, length: 5, lineStyle: { color: '#333' } },
      axisLabel: Object.assign({ fontSize: 20, margin: 6, formatter: plain }, axisTxt) },
    ptAxisX(1), ptAxisX(2),
    { gridIndex: 3, type: 'value', min: 1.8, max: 3.6, interval: 1.8, axisLine: { show: true, lineStyle: { color: '#222', width: 1 } },
      axisTick: { show: false }, splitLine: { show: false },
      axisLabel: { fontSize: 7, margin: 2, color: '#333' } }
  ],
  yAxis: [
    tpAxisY('left'), tpAxisY('right'),
    ptAxisY(1, 'left'), ptAxisY(2, 'right'),
    { gridIndex: 3, type: 'value', min: 0, max: 348, interval: 26, axisLine: { show: false }, axisTick: { show: false }, axisLabel: { show: false },
      splitLine: { show: true, lineStyle: { color: '#c9c9c9', width: 1 } } }
  ],
  legend: [
    { data: [{ name: 'High dT/dP' }, { name: 'Intermediate dT/dP' }, { name: 'Low dT/dP', itemStyle: { color: '#2a3b92' } }],
      left: 1018, top: 62, orient: 'vertical', itemGap: 20, icon: 'circle', itemWidth: 15, itemHeight: 15, selectedMode: false,
      formatter: function (name) { return '{n|' + name.split('dT/dP')[0] + 'd}{i|T}{n|/d}{i|P}'; },
      textStyle: { fontSize: 20, color: '#333', rich: italicRich(20, '#333') } },
    { data: bNames, left: 128, top: 680, orient: 'vertical', itemGap: 7, icon: 'circle', itemWidth: 12, itemHeight: 12, selectedMode: false,
      textStyle: { fontSize: 12, color: '#333', fontFamily: FONT } },
    { data: cNames, left: 531, top: 680, orient: 'vertical', itemGap: 7, icon: 'circle', itemWidth: 12, itemHeight: 12, selectedMode: false,
      textStyle: { fontSize: 12, color: '#333', fontFamily: FONT } }
  ],
  graphic: { elements: g },
  series: series
});
</script>
</body>
</html>
